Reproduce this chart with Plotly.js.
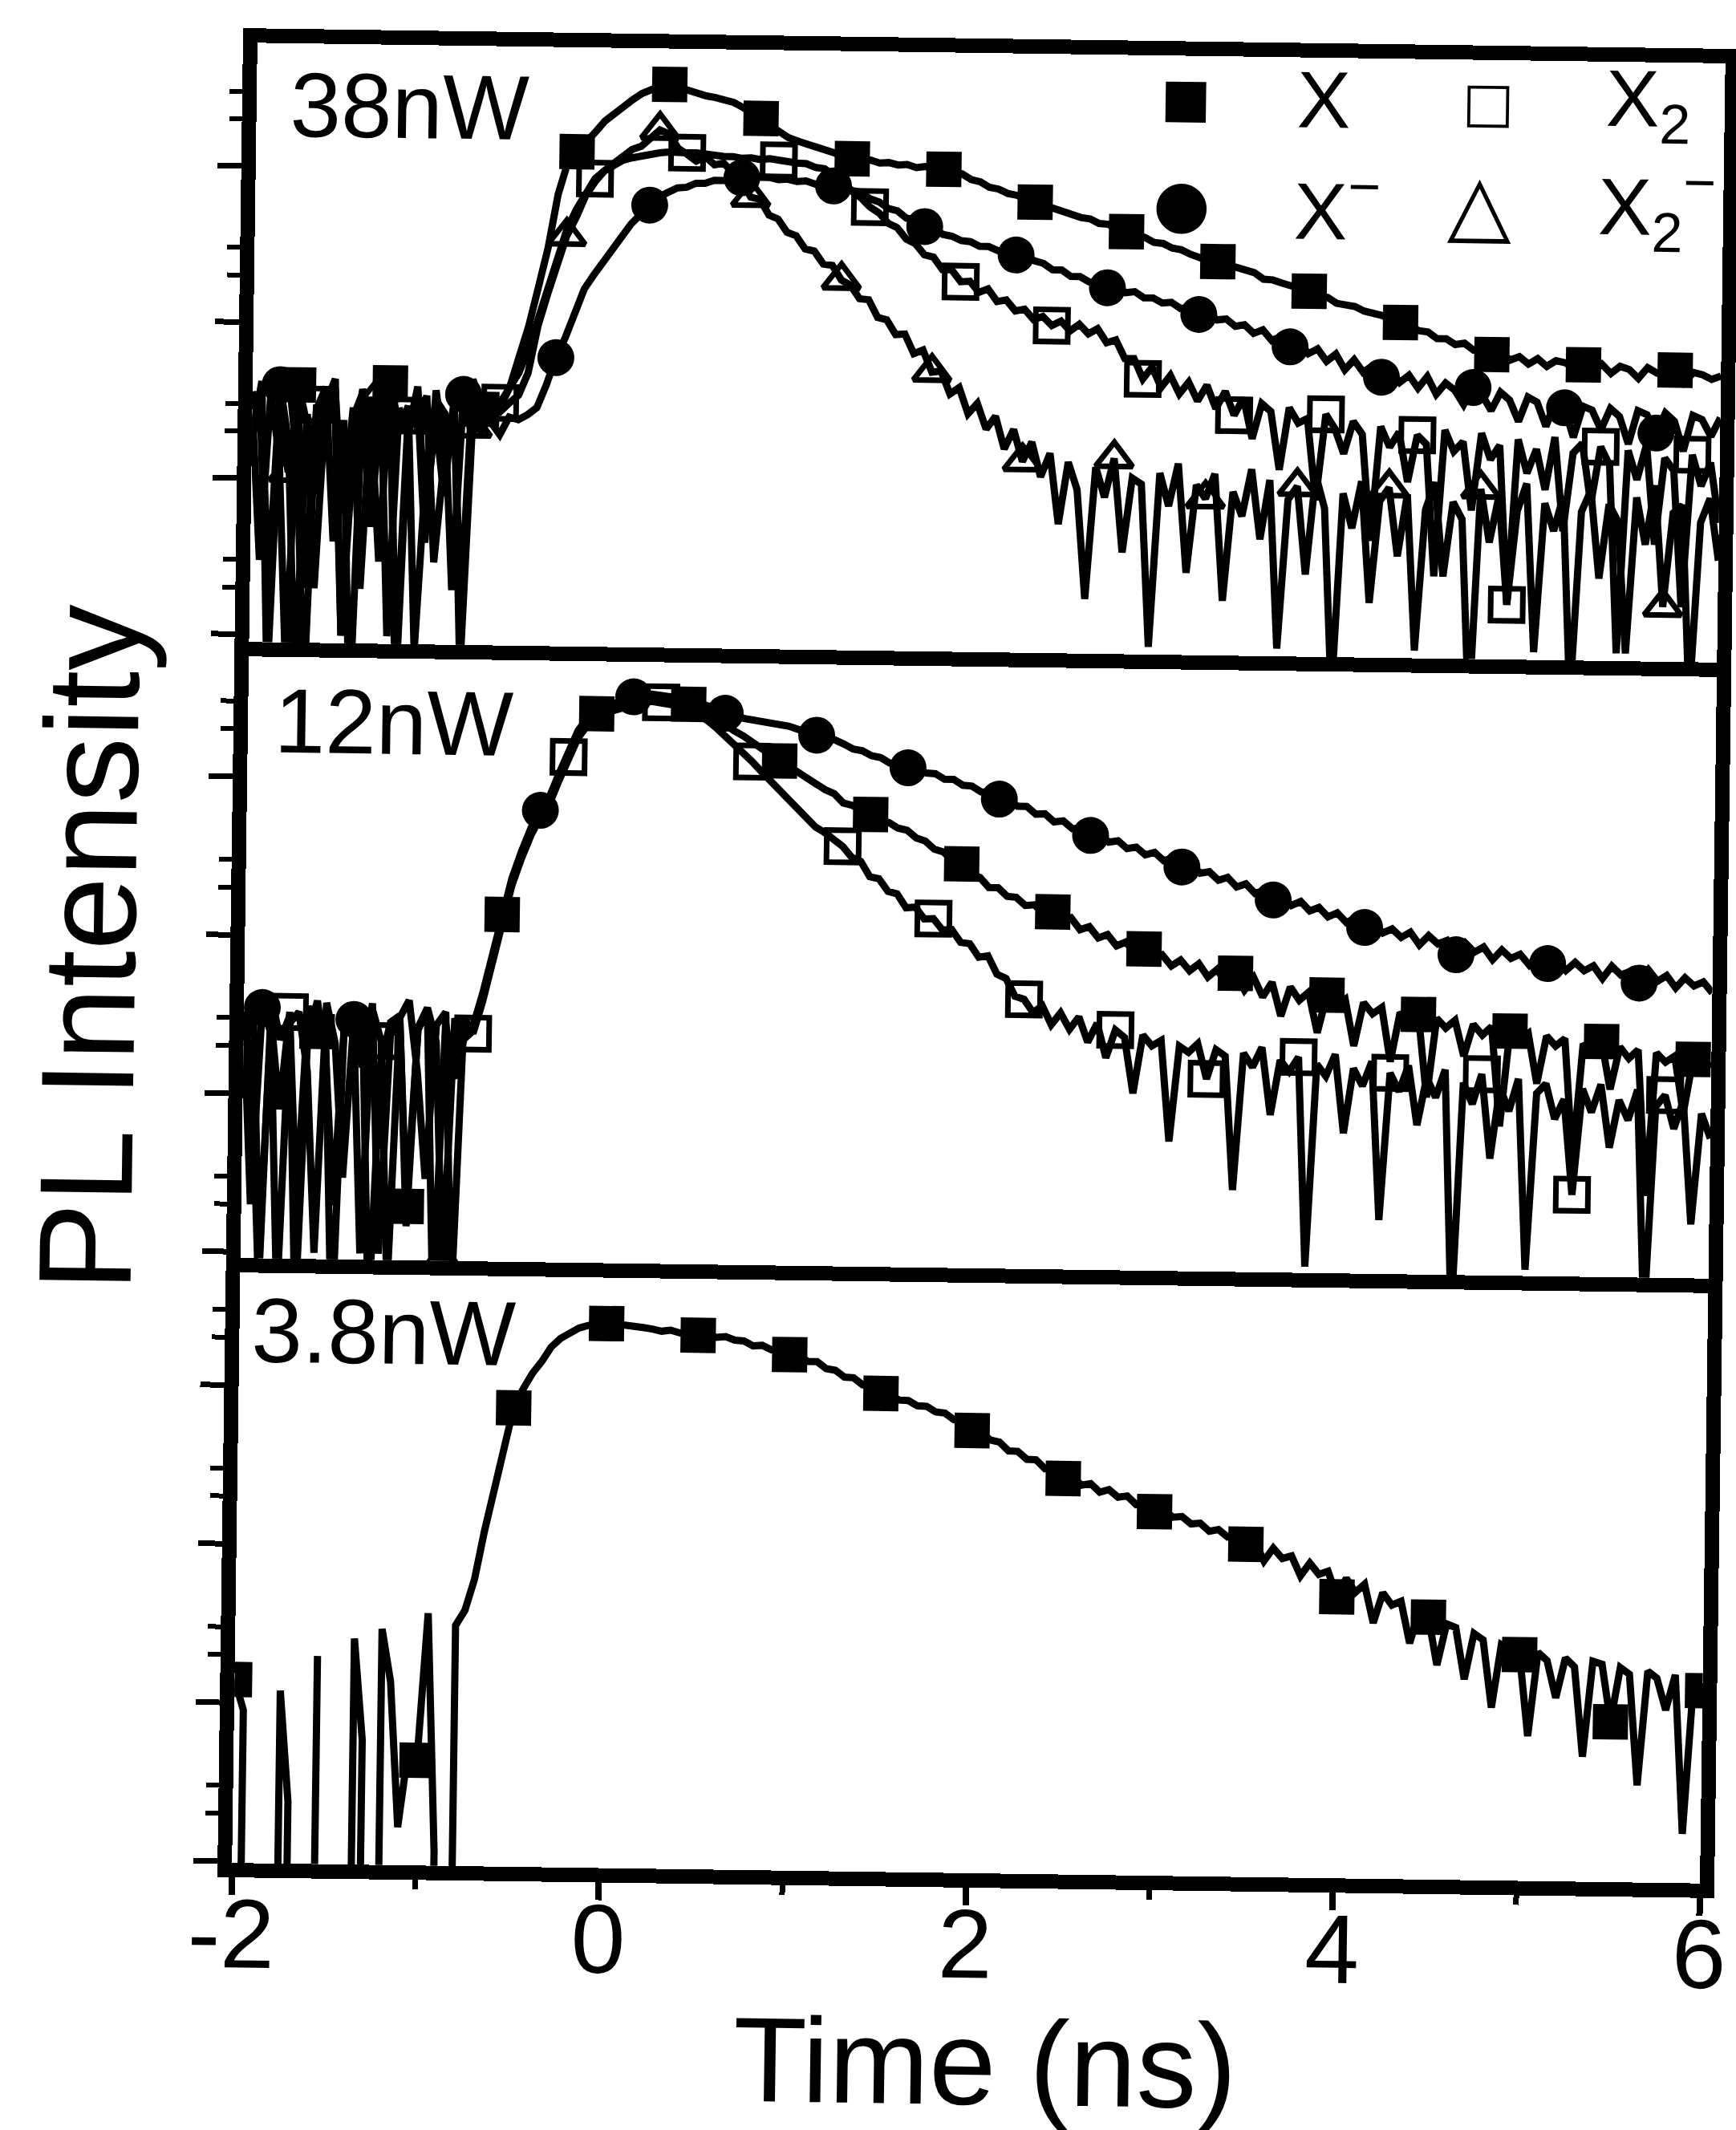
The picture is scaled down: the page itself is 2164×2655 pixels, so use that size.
<!DOCTYPE html>
<html>
<head>
<meta charset="utf-8">
<script src="https://cdn.plot.ly/plotly-3.0.1.min.js"></script>
<style>
html,body{margin:0;padding:0;background:#fff;overflow:hidden;}
#chart{width:2164px;height:2655px;transform:rotate(0.8deg);transform-origin:1219px 1198px;}
</style>
</head>
<body>
<div id="chart"></div>
<script>
// ---------------- data ----------------
const time = [-2,-1.95,-1.9,-1.85,-1.8,-1.75,-1.7,-1.65,-1.6,-1.55,-1.5,-1.45,-1.4,-1.35,-1.3,-1.25,-1.2,-1.15,-1.1,-1.05,-1,-0.95,-0.9,-0.85,-0.8,-0.75,-0.7,-0.65,-0.6,-0.55,-0.5,-0.45,-0.4,-0.35,-0.3,-0.25,-0.2,-0.15,-0.1,-0.05,0,0.05,0.1,0.15,0.2,0.25,0.3,0.35,0.4,0.45,0.5,0.55,0.6,0.65,0.7,0.75,0.8,0.85,0.9,0.95,1,1.05,1.1,1.15,1.2,1.25,1.3,1.35,1.4,1.45,1.5,1.55,1.6,1.65,1.7,1.75,1.8,1.85,1.9,1.95,2,2.05,2.1,2.15,2.2,2.25,2.3,2.35,2.4,2.45,2.5,2.55,2.6,2.65,2.7,2.75,2.8,2.85,2.9,2.95,3,3.05,3.1,3.15,3.2,3.25,3.3,3.35,3.4,3.45,3.5,3.55,3.6,3.65,3.7,3.75,3.8,3.85,3.9,3.95,4,4.05,4.1,4.15,4.2,4.25,4.3,4.35,4.4,4.45,4.5,4.55,4.6,4.65,4.7,4.75,4.8,4.85,4.9,4.95,5,5.05,5.1,5.15,5.2,5.25,5.3,5.35,5.4,5.45,5.5,5.55,5.6,5.65,5.7,5.75,5.8,5.85,5.9,5.95,6];

const panelLabels = ['38nW', '12nW', '3.8nW'];
const seriesNames = ['X', 'X<sup>\u2212</sup>', 'X<sub>2</sub>', 'X<sub>2</sub><sup>\u2212</sup>'];
const xTitle = 'Time (ns)';
const yTitle = 'PL Intensity';
const xTickVals = [-2, 0, 2, 4, 6];
const xTickText = ['-2', '0', '2', '4', '6'];
const xMinorTicks = [-1, 1, 3, 5];
const yMinorTicks = [2, 3, 20, 30, 200, 300, 2000, 3000];

// 38 nW panel (PL counts, arbitrary units)
const p38_X = [28,3,35,14,0.6,40,22,2,31,44,1,25,36,5,27,42,0.4,20,33,4,38,15,30,1.5,45,29,
 32,30,40,63,100,178,320,700,1120,1320,1510,1780,2090,2340,2630,2880,3160,3390,3550,3630,
 3470,3310,3160,3090,3020,2950,2820,2630,2400,2240,2000,1820,1700,1620,1550,1480,1450,1380,1320,1260,
 1230,1240,1190,1200,1160,1170,1120,1140,1090,1100,1060,1030,950,920,850,830,780,760,720,690,
 660,630,600,585,555,545,510,505,470,455,440,420,390,385,360,352,330,318,300,298,
 282,275,262,255,232,230,220,212,200,196,182,180,165,162,158,148,145,139,130,126,
 120,112,110,100,100,92,94,85,86,80,82,74,78,70,76,68,74,72,66,70,
 64,71,62,69,66,58,68,63,60,66,55,64,62,58,61];
const p38_Xm = [22,31,2,40,17,0.5,26,8,35,29,1,13,38,24,3,45,21,30,0.8,11,33,27,2,36,19,34,
 24,20,26,25,27,30,42,63,85,125,175,215,260,320,390,460,530,610,690,740,
 790,800,850,850,890,890,930,930,960,940,940,910,920,890,900,860,870,840,850,790,
 770,700,670,610,590,530,520,470,460,420,410,385,380,355,355,335,330,315,315,290,
 280,255,255,232,232,215,214,198,202,185,188,172,172,160,162,148,150,136,140,126,
 128,115,118,104,110,94,100,86,92,78,84,70,78,62,72,60,66,56,62,52,
 58,48,57,44,52,47,38,49,44,35,46,41,30,43,40,28,41,37,24,38,
 36,27,37,33,22,36,34,26,35,31,20,34,32,25,33];
const p38_X2 = [36,19,1,27,43,12,0.4,30,24,38,6,29,2,33,17,41,0.7,26,22,35,3,14,31,39,23,21,
 28,32,40,50,71,112,178,282,417,562,724,891,1000,1096,1175,1220,1260,1290,1320,1340,
 1350,1330,1330,1300,1300,1270,1270,1240,1250,1220,1240,1210,1210,1170,1160,1100,1080,990,900,780,
 710,620,570,490,460,390,365,310,300,250,250,210,212,180,190,158,162,138,142,122,
 128,112,120,104,115,100,108,88,92,70,70,52,62,46,55,42,50,38,48,34,
 44,31,40,22,37,33,14,35,28,30,9,32,26,18,29,24,5,27,20,25,
 12,24,21,3,26,19,22,8,25,17,21,2,23,14,20,11,24,6,19,22,
 9,21,16,1,20,13,22,5,18,15,2,19,12,17,7];
const p38_X2m = [18,42,0.5,26,11,33,2,28,39,4,24,0.3,31,15,37,1,29,20,40,6,25,8,34,0.6,22,30,
 30,28,32,36,50,100,160,240,380,500,690,850,1000,1120,1260,1380,1450,1650,1850,1750,
 1420,1300,1180,1260,1120,1150,980,870,700,680,540,510,420,400,330,320,265,260,210,195,
 160,158,122,118,95,96,72,76,55,56,40,44,30,35,24,29,18,24,15,20,
 12,17,6,15,10,2,14,9,16,4,12,11,1,13,8,15,3,11,9,13,
 2,10,7,14,5,12,1,9,11,3,13,8,0.5,10,6,12,2,9,11,4,
 10,1,8,12,3,9,7,0.4,11,5,10,2,8,12,1,9,6,10,0.5,8,
 11,3,9,7,1,10,5,12,2,8,9,0.5,7,10,4];

// 12 nW panel
const p12_Xm = [30,2,35,24,0.5,28,33,14,1,38,21,3,30,25,0.4,16,29,32,1.5,27,36,22,0.8,31,25,
 28,45,79,150,240,355,500,650,800,1120,1580,2090,2510,2820,3020,3160,3310,3450,3550,3600,
 3550,3480,3420,3280,3230,3080,2980,2770,2730,2580,2530,2430,2420,2330,2320,2220,2170,2050,2010,1920,
 1810,1690,1650,1540,1500,1390,1380,1300,1290,1210,1200,1110,1110,1020,1010,930,930,840,840,760,
 760,680,685,610,620,555,560,505,515,460,470,420,430,385,400,355,370,325,340,298,
 305,270,282,246,258,225,235,205,217,190,202,176,186,162,172,150,160,140,148,130,
 138,122,132,110,126,112,118,96,114,100,108,90,104,92,98,84,96,86,90,78,
 88,78,84,70,84,74,78,66,80,68,74,62,72,64,68,58];
const p12_X = [33,12,0.6,40,22,31,2,36,25,19,0.3,34,28,15,38,1,24,30,2,26,35,0.5,29,13,23,
 26,42,75,142,228,337,475,618,760,1060,1500,1990,2380,2680,2870,3000,3150,3280,3370,3420,
 3370,3320,3230,3130,3040,2820,2560,2330,2150,2000,1820,1650,1510,1400,1300,1200,1100,1000,930,880,
 770,745,690,655,600,585,540,525,470,450,400,385,340,325,280,268,232,232,205,202,
 180,182,160,165,145,152,128,134,114,120,102,108,92,98,84,90,77,84,72,80,
 66,74,60,70,55,66,50,62,38,58,48,54,30,52,44,49,25,47,40,44,
 20,41,36,40,12,38,33,37,22,35,30,34,8,32,28,31,15,30,26,29,
 5,27,24,28,14,26,22,25,3,24,21,23,10,22,19,21];
const p12_X2 = [20,37,1,29,8,33,0.4,24,39,17,2,30,27,1,35,22,0.6,31,40,14,3,28,34,0.5,32,
 25,40,71,135,216,320,450,585,720,1010,1420,1880,2260,2540,2720,2840,2980,3100,3200,3240,
 3200,3150,3050,2900,2700,2500,2250,2000,1780,1580,1380,1200,1050,890,780,680,600,540,500,450,
 410,350,330,265,258,215,208,170,172,145,146,124,125,104,102,84,86,66,62,48,
 46,38,42,32,38,30,36,25,33,20,30,27,12,28,24,26,6,24,22,25,
 15,23,21,3,22,18,24,9,20,17,21,1,19,16,22,7,18,14,20,2,
 17,13,19,8,16,12,18,0.5,15,11,17,5,14,10,16,1,13,15,9,12,
 3,14,10,15,6,12,9,14,0.5,11,13,8,12,2,10,7];

// 3.8 nW panel
const p3_X = [14,9,0,0,0,12,2.4,0,0,20,0,0,0,26,6,0,30,14,1.7,5,4.5,38,1.2,0,32,40,
 63,126,224,420,760,1000,1260,1500,1850,2100,2300,2450,2550,2600,2630,2620,2600,2550,2500,2450,
 2380,2420,2330,2370,2260,2290,2200,2230,2120,2100,1960,1980,1860,1870,1740,1720,1580,1580,1430,1400,
 1270,1260,1140,1120,1010,990,920,915,850,845,780,770,700,680,600,590,525,510,450,448,
 400,398,350,352,305,312,278,285,252,262,235,240,212,215,192,197,178,180,162,164,
 146,150,135,137,122,126,96,116,100,104,78,94,80,84,58,76,62,70,40,62,
 52,55,30,48,44,22,40,38,18,35,32,12,30,28,26,8,27,24,14,25,
 22,6,24,23,10,22,20,4,21,19,12,20,2,18,16];

// ---------------- build ----------------
const FONT = 'Liberation Sans, Arial, Helvetica, sans-serif';
const styles = {
  'X':   {symbol: 'square', size: 44, color: 'black', line: {width: 0}},
  'Xm':  {symbol: 'circle', size: 46, color: 'black', line: {width: 0}},
  'X2':  {symbol: 'square-open', size: 40, color: 'black', line: {width: 7, color: 'black'}},
  'X2m': {symbol: 'triangle-up-open', size: 40, color: 'black', line: {width: 7, color: 'black'}}
};
const nameOf = {'X': seriesNames[0], 'Xm': seriesNames[1], 'X2': seriesNames[2], 'X2m': seriesNames[3]};

const panels = [
  {ax: '3', series: [['X2m', p38_X2m, 4], ['X2', p38_X2, 7], ['Xm', p38_Xm, 3], ['X', p38_X, 5]]},
  {ax: '2', series: [['X2', p12_X2, 5], ['X', p12_X, 8], ['Xm', p12_Xm, 2]]},
  {ax: '',  series: [['X', p3_X, 0]]}
];

const traces = [];
panels.forEach(p => {
  p.series.forEach(([key, vals, off]) => {
    if (vals.length !== time.length) throw new Error(key + ' length ' + vals.length);
    traces.push({
      type: 'scatter', mode: 'lines', x: time, y: vals,
      xaxis: 'x' + p.ax, yaxis: 'y' + p.ax,
      line: {color: 'black', width: 9}, showlegend: false, hoverinfo: 'skip',
      name: nameOf[key]
    });
    const mx = [], my = [];
    vals.forEach((v, i) => { if ((i - off) % 10 === 0 && v > 0) { mx.push(time[i]); my.push(v); } });
    traces.push({
      type: 'scatter', mode: 'markers', x: mx, y: my,
      xaxis: 'x' + p.ax, yaxis: 'y' + p.ax,
      marker: styles[key], showlegend: false, hoverinfo: 'skip', name: nameOf[key]
    });
  });
});

const frameW = 18;
const yBase = (domain, range) => ({
  type: 'log', domain: domain, range: range, dtick: 1, tick0: 0,
  ticks: 'outside', ticklen: 30, tickwidth: 7, tickcolor: 'black',
  showticklabels: false, showgrid: false, zeroline: false,
  showline: true, mirror: true, linecolor: 'black', linewidth: frameW,
  minor: {tickmode: 'array', tickvals: yMinorTicks, ticks: 'outside', ticklen: 16, tickwidth: 6, tickcolor: 'black'}
});
const xBase = (anchor) => ({
  anchor: anchor, range: [-2, 6], showgrid: false, zeroline: false,
  showline: true, linecolor: 'black', linewidth: frameW
});

const ML = 305, MT = 66, PB = 2335, PR = 2135;
const toPX = px => (px - ML) / (PR - ML);
const toPY = py => (PB - py) / (PB - MT);

const layout = {
  width: 2164, height: 2655,
  margin: {l: ML, r: 2164 - PR, t: MT, b: 2655 - PB},
  paper_bgcolor: 'white', plot_bgcolor: 'white',
  font: {family: FONT, color: 'black'},
  showlegend: false,
  xaxis: Object.assign(xBase('y'), {
    mirror: false, ticks: 'outside', tickmode: 'array', tickvals: xTickVals, ticktext: xTickText,
    ticklen: 22, tickwidth: 8, tickcolor: 'black', ticklabelstandoff: -56, ticklabeloverflow: 'allow',
    minor: {tickmode: 'array', tickvals: xMinorTicks, ticks: 'outside', ticklen: 12, tickwidth: 7, tickcolor: 'black'},
    tickfont: {size: 122, family: FONT, color: 'black'}
  }),
  xaxis2: Object.assign(xBase('y2'), {matches: 'x', mirror: false, showticklabels: false, ticks: ''}),
  xaxis3: Object.assign(xBase('y3'), {matches: 'x', mirror: true, showticklabels: false, ticks: ''}),
  yaxis: yBase([0, toPY(1581)], [-0.01, 3.80]),
  yaxis2: Object.assign(yBase([toPY(1581), toPY(813)], [-0.04, 3.85]), {
    title: {text: yTitle, font: {size: 165, family: FONT, color: 'black'}, standoff: 40}
  }),
  yaxis3: yBase([toPY(813), 1], [-0.05, 3.79]),
  annotations: [
    {text: xTitle, xref: 'paper', yref: 'paper', x: toPX(1247), y: toPY(2571), xanchor: 'center', yanchor: 'middle',
     showarrow: false, font: {size: 150, family: FONT, color: 'black'}}
  ]
};

// panel labels (left edge, vertical centre in px)
const labelPix = [[345, 143], [336, 910], [318, 1670]];
panelLabels.forEach((t, k) => {
  layout.annotations.push({text: t, xref: 'paper', yref: 'paper', x: toPX(labelPix[k][0]), y: toPY(labelPix[k][1]),
    xanchor: 'left', yanchor: 'middle', showarrow: false, font: {size: 114, family: FONT, color: 'black'}});
});

// legend (drawn as text inside the top panel)
const legendRows = [
  {glyph: '\u25A0', gx: 1463, label: seriesNames[0], lx: 1600, y: 118, gsize: 66},
  {glyph: '\u25A1', gx: 1840, label: seriesNames[2], lx: 1985, y: 118, gsize: 68},
  {glyph: '\u25CF', gx: 1460, label: seriesNames[1], lx: 1598, y: 250, gsize: 82},
  {glyph: '\u25B3', gx: 1831, label: seriesNames[3], lx: 1977, y: 246, gsize: 104}
];
legendRows.forEach(r => {
  layout.annotations.push({text: r.glyph, xref: 'paper', yref: 'paper', x: toPX(r.gx), y: toPY(r.y),
    xanchor: 'center', yanchor: 'middle', showarrow: false, font: {size: r.gsize, family: 'DejaVu Sans', color: 'black'}});
  layout.annotations.push({text: r.label, xref: 'paper', yref: 'paper', x: toPX(r.lx), y: toPY(r.y),
    xanchor: 'left', yanchor: 'middle', showarrow: false, font: {size: 100, family: FONT, color: 'black'}});
});

Plotly.newPlot('chart', traces, layout, {displayModeBar: false, staticPlot: true});
</script>
</body>
</html>
